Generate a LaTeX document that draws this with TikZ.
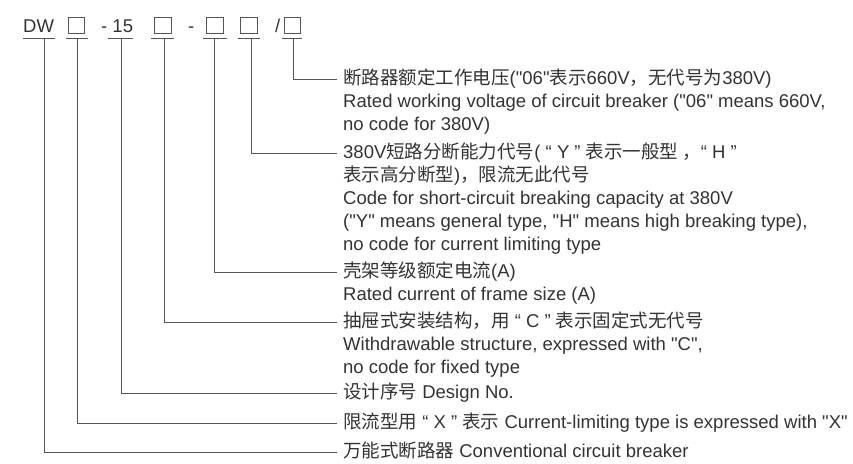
\documentclass[tikz,border=0pt]{standalone}
\usepackage{fontspec}
\setmainfont{Liberation Sans}[Ligatures=TeXOff]
\newfontfamily\cjkfont{Noto Sans CJK SC}
\newcommand{\zh}[1]{{\cjkfont #1}}
\definecolor{txtcol}{HTML}{333333}
\definecolor{lncol}{HTML}{555555}
\begin{document}
\begin{tikzpicture}[x=1pt,y=-1pt,
  font=\fontsize{18.5}{23}\selectfont,
  conn/.style={draw=lncol, line width=0.8pt},
  desc/.style={anchor=west, inner xsep=6pt, inner ysep=0pt, text height=13pt, text depth=2pt, text=txtcol},
  descmore/.style={anchor=base west, inner sep=0pt, text=txtcol},
  sq/.style={draw=lncol, line width=0.8pt, minimum width=16.5pt, minimum height=15.5pt, inner sep=0pt},
  toptxt/.style={anchor=base west, inner sep=0pt, text=txtcol}]
\useasboundingbox (0,0) rectangle (853,463);
% top row
\node[toptxt] (dw) at (23,32) {DW};
\node[sq] (b1) at (76.5,25.5) {};
\node[toptxt] (n15) at (101,32) {- 15};
\node[sq] (b2) at (163,25.5) {};
\node[toptxt] (dash) at (188,32) {-};
\node[sq] (b3) at (215,25.5) {};
\node[sq] (b4) at (249,25.5) {};
\node[toptxt] (slash) at (275,32) {/};
\node[sq] (b5) at (292.5,25.5) {};
% underlines
\draw[conn] (23,38) -- (55,38);
\draw[conn] (66,38) -- (88,38);
\draw[conn] (108,38) -- (133,38);
\draw[conn] (151,38) -- (174,38);
\draw[conn] (203,38) -- (227,38);
\draw[conn] (238,38) -- (260,38);
\draw[conn] (282,38) -- (302,38);
\coordinate (u1) at (44,38);
\coordinate (u2) at (77,38);
\coordinate (u3) at (121,38);
\coordinate (u4) at (164,38);
\coordinate (u5) at (214,38);
\coordinate (u6) at (251,38);
\coordinate (u7) at (293,38);
% descriptions
\node[desc] (t1) at (337,79) {\zh{断路器额定工作电压}("06"\zh{表示}660V\zh{，无代号为}380V)};
\node[descmore] at (343,107.5) {Rated working voltage of circuit breaker ("06" means 660V,};
\node[descmore] at (343,130.5) {no code for 380V)};
\node[desc] (t2) at (337,153) {380V\zh{短路分断能力代号}( “ Y ” \zh{表示一般型 ，}“ H ”};
\node[descmore] at (343,181.5) {\zh{表示高分断型})\zh{，限流无此代号}};
\node[descmore] at (343,204.5) {Code for short-circuit breaking capacity at 380V};
\node[descmore] at (343,227.5) {("Y" means general type, "H" means high breaking type),};
\node[descmore] at (343,250.5) {no code for current limiting type};
\node[desc] (t3) at (337,272) {\zh{壳架等级额定电流}(A)};
\node[descmore] at (343,300.5) {Rated current of frame size (A)};
\node[desc] (t4) at (337,322) {\zh{抽屉式安装结构，用} “ C ” \zh{表示固定式无代号}};
\node[descmore] at (343,350.5) {Withdrawable structure, expressed with "C",};
\node[descmore] at (343,373.5) {no code for fixed type};
\node[desc] (t5) at (337,393) {\zh{设计序号} Design No.};
\node[desc] (t6) at (337,423) {\zh{限流型用} “ X ” \zh{表示} Current-limiting type is expressed with "X"};
\node[desc] (t7) at (337,452) {\zh{万能式断路器} Conventional circuit breaker};
% connectors
\draw[conn] (u7) |- (t1.west);
\draw[conn] (u6) |- (t2.west);
\draw[conn] (u5) |- (t3.west);
\draw[conn] (u4) |- (t4.west);
\draw[conn] (u3) |- (t5.west);
\draw[conn] (u2) |- (t6.west);
\draw[conn] (u1) |- (t7.west);
\end{tikzpicture}
\end{document}
